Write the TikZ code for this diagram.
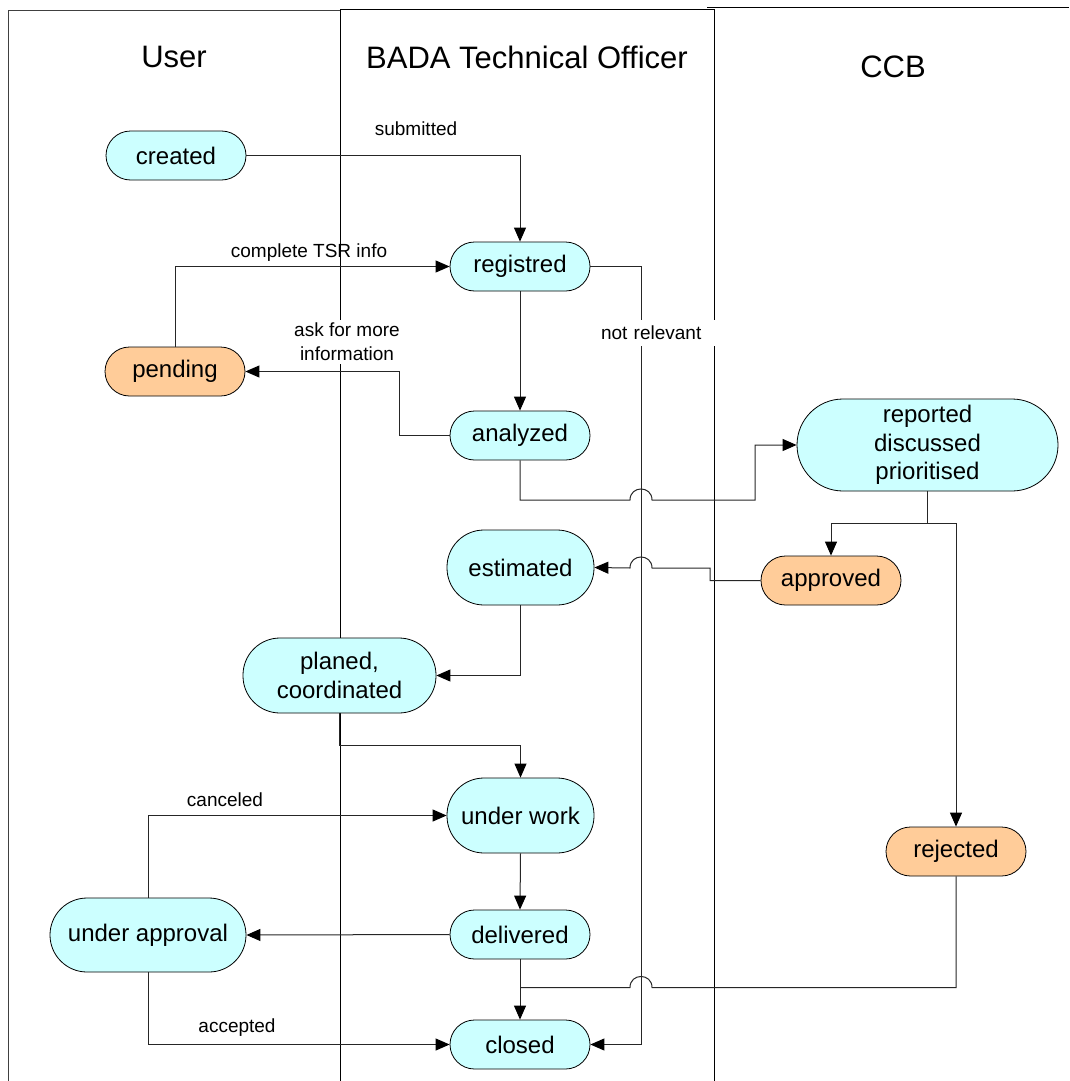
\documentclass[tikz,border=0pt]{standalone}
\usepackage{fontspec}
\setmainfont{Liberation Sans}
\usetikzlibrary{arrows.meta,calc}
\definecolor{cyanfill}{HTML}{CCFFFF}
\definecolor{orangefill}{HTML}{FFCC99}
\tikzset{
  state/.style={draw=black, line width=0.8pt, fill=cyanfill, rounded corners=24.5pt,
    minimum width=140pt, minimum height=49pt, inner sep=0pt, align=center,
    font=\fontsize{24}{28.5}\selectfont},
  bigstate/.style={state, rounded corners=37pt, minimum height=75pt},
  orstate/.style={state, fill=orangefill},
  conn/.style={draw=black!85, line width=1pt, -{Triangle[length=14pt,width=12pt,color=black]}},
  plainconn/.style={draw=black!85, line width=1pt},
  lbl/.style={font=\fontsize{19}{24}\selectfont, inner sep=1pt, align=center},
  lane/.style={draw=black!75, line width=0.9pt},
  title/.style={font=\fontsize{31}{36}\selectfont}
}
\begin{document}
\begin{tikzpicture}[x=1pt,y=-1pt]
\useasboundingbox (0,0) rectangle (1069,1081);
% lanes
\draw[lane] (8,1081) -- (8,10.7) -- (340.5,10.7);
\draw[lane,draw=black] (340.5,1081) -- (340.5,9.5) -- (714,9.5) -- (714,1081);
\draw[lane,draw=black,line width=1.3pt] (707,7.5) -- (1069,7.5);
\node[title] (tuser) at (174,57) {User};
\node[title] (tbada) at (527,57) {BADA Technical Officer};
\node[title] (tccb) at (893,67) {CCB};
% nodes
\node[state] (created) at (176,155.5) {created};
\node[state] (registred) at (520,266.5) {registred};
\node[orstate] (pending) at (175,371.5) {pending};
\node[state] (analyzed) at (520,435.5) {analyzed};
\node[state, rounded corners=46pt, minimum width=261pt, minimum height=92pt] (reported) at (927.5,445) {reported\\discussed\\prioritised};
\node[bigstate, minimum width=147pt] (estimated) at (520.5,567.5) {estimated};
\node[orstate] (approved) at (831,580.5) {approved};
\node[bigstate, minimum width=193pt] (planed) at (339.5,675.5) {planed,\\coordinated};
\node[bigstate, minimum width=147pt] (underwork) at (520.5,815.5) {under work};
\node[orstate] (rejected) at (956,851.5) {rejected};
\node[bigstate, minimum width=196pt, minimum height=74pt] (underapproval) at (148,935) {under approval};
\node[state] (delivered) at (520,934.5) {delivered};
\node[state] (closed) at (520,1044.5) {closed};
% connectors
\draw[conn] (created.east) -| (registred.north);
\node[lbl] (lsub) at (416,129) {submitted};
\draw[conn] (pending.north) |- (registred.west);
\node[lbl] (lcomp) at (309,253) {complete TSR info};
\draw[conn] (registred.south) -- (analyzed.north);
\draw[conn] (analyzed.west) -- ++(-50,0) |- (pending.east);
\draw[conn] (registred.east) -| ($(closed.east)+(51,0)$) -- (closed.east);
\draw[conn] (analyzed.south) -- (520,500) -- (630,500)
  .. controls (630,485.3) and (652,485.3) .. (652,500) -- (755,500) -- (755,445) -- (reported.west);
\draw[conn] (reported.south) -- ++(0,32) -| (approved.north);
\draw[conn] (reported.south) -- ++(0,32) -| (rejected.north);
\draw[conn] (approved.west) -- (710,580.5) -- (710,568) -- (652,568)
  .. controls (652,553.3) and (630,553.3) .. (630,568) -- (estimated.east);
\draw[conn] (estimated.south) |- (planed.east);
\draw[conn] (planed.south) -- ++(0,32) -| (underwork.north);
\draw[conn] (underwork.south) -- (delivered.north);
\draw[conn] (delivered.west) -- (underapproval.east);
\draw[conn] (underapproval.north) |- (underwork.west);
\node[lbl] (lcanc) at (225,800) {canceled};
\draw[conn] (underapproval.south) |- (closed.west);
\node[lbl] (lacc) at (237,1028) {accepted};
\draw[conn] (delivered.south) -- (closed.north);
\coordinate (join) at (520,987.5);
\draw[plainconn] (rejected.south) -- (956,987.5) -- (652,987.5)
  .. controls (652,972.8) and (630,972.8) .. (630,987.5) -- (join);
% labels with white background
\node[lbl, fill=white, inner sep=3pt] (lask) at (347,342) {ask for more\\information};
\node[lbl, fill=white, minimum width=118pt, text width=112pt, align=left, inner sep=2pt, minimum height=26pt] (lnot) at (657,333) {not relevant};
\end{tikzpicture}
\end{document}
